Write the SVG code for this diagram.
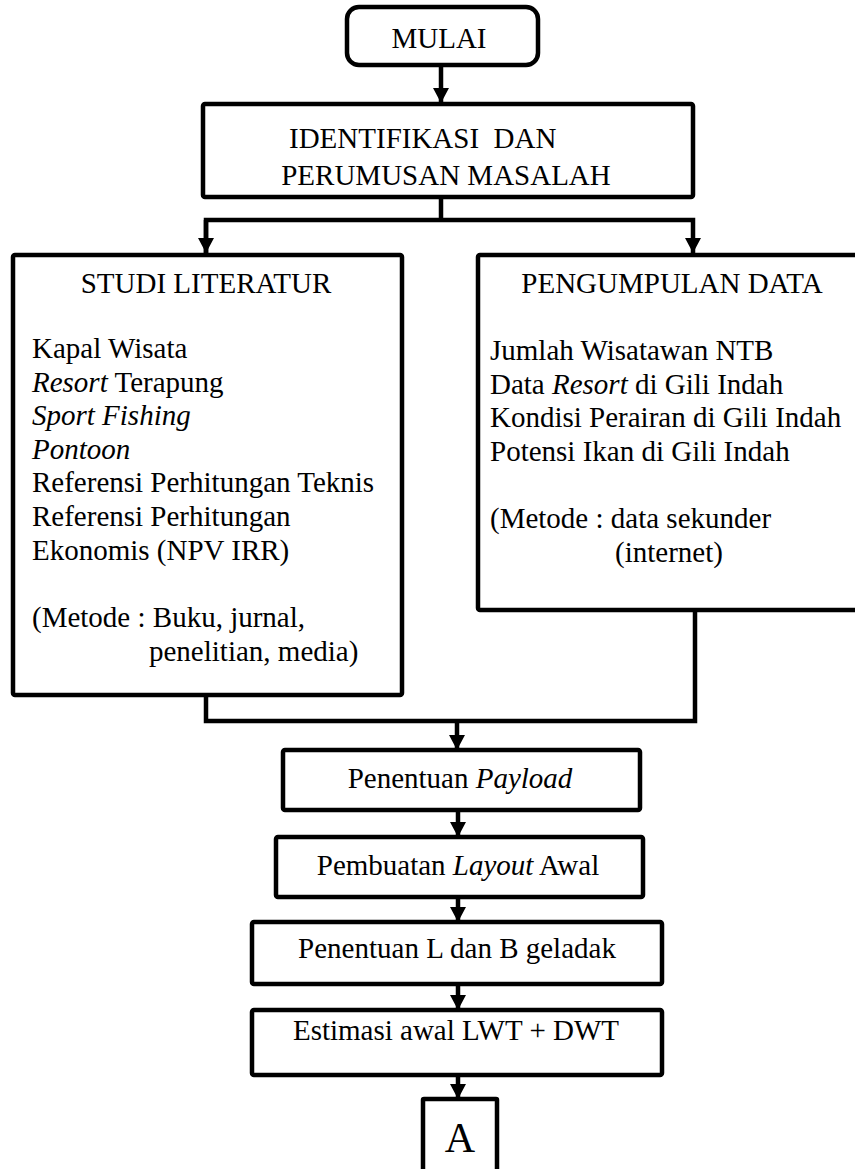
<svg xmlns="http://www.w3.org/2000/svg" width="855" height="1169" viewBox="0 0 855 1169">
<style>
  .box{fill:#fff;stroke:#000;stroke-width:4.5;stroke-linejoin:round}
  .c{text-anchor:middle}
  .i{font-style:italic}
  .ln{fill:none;stroke:#000;stroke-width:4.5;stroke-linejoin:miter}
</style>
<defs>
  <marker id="ah" markerUnits="userSpaceOnUse" markerWidth="18" markerHeight="16" refX="15" refY="8" orient="auto">
    <path d="M0,0 L15,8 L0,16 Z" fill="#000"/>
  </marker>
</defs>
<rect width="855" height="1169" fill="#fff"/>
<g id="connectors">
  <line class="ln" x1="441" y1="65" x2="441" y2="103" marker-end="url(#ah)"/>
  <polyline class="ln" points="441,197 441,220"/>
  <polyline class="ln" points="206,253 206,220 693,220 693,253" marker-end="url(#ah)"/>
  <line class="ln" x1="206" y1="220" x2="206" y2="253" marker-end="url(#ah)"/>
  <polyline class="ln" points="206,695 206,721 695,721 695,610"/>
  <line class="ln" x1="457" y1="721" x2="457" y2="750" marker-end="url(#ah)"/>
  <line class="ln" x1="458" y1="810" x2="458" y2="837" marker-end="url(#ah)"/>
  <line class="ln" x1="458" y1="897" x2="458" y2="922" marker-end="url(#ah)"/>
  <line class="ln" x1="458" y1="984" x2="458" y2="1010" marker-end="url(#ah)"/>
  <line class="ln" x1="458" y1="1075" x2="458" y2="1099" marker-end="url(#ah)"/>
</g>
<g id="mulai">
  <rect class="box" x="347" y="7" width="191" height="58" rx="12"/>
  <text font-family="Liberation Serif" font-size="29" class="c" x="439" y="48">MULAI</text>
</g>
<g id="identifikasi">
  <rect class="box" x="203" y="104" width="490" height="93" rx="2"/>
  <text font-family="Liberation Serif" font-size="29" x="289" y="148" xml:space="preserve">IDENTIFIKASI  DAN</text>
  <text font-family="Liberation Serif" font-size="29" class="c" x="446" y="185">PERUMUSAN MASALAH</text>
</g>
<g id="studi">
  <rect class="box" x="13" y="255" width="389" height="440" rx="2"/>
  <text font-family="Liberation Serif" font-size="29" class="c" x="206" y="293">STUDI LITERATUR</text>
  <text font-family="Liberation Serif" font-size="29" x="32" y="358">Kapal Wisata</text>
  <text font-family="Liberation Serif" font-size="29" x="32" y="391.6"><tspan class="i">Resort</tspan> Terapung</text>
  <text font-family="Liberation Serif" font-size="29" class="i" x="32" y="425.2">Sport Fishing</text>
  <text font-family="Liberation Serif" font-size="29" class="i" x="32" y="458.8">Pontoon</text>
  <text font-family="Liberation Serif" font-size="29" x="32" y="492.4">Referensi Perhitungan Teknis</text>
  <text font-family="Liberation Serif" font-size="29" x="32" y="526">Referensi Perhitungan</text>
  <text font-family="Liberation Serif" font-size="29" x="32" y="559.6">Ekonomis (NPV IRR)</text>
  <text font-family="Liberation Serif" font-size="29" x="32" y="627">(Metode : Buku, jurnal,</text>
  <text font-family="Liberation Serif" font-size="29" x="149" y="660.6">penelitian, media)</text>
</g>
<g id="pengumpulan">
  <rect class="box" x="478" y="255" width="390" height="355" rx="2"/>
  <text font-family="Liberation Serif" font-size="29" class="c" x="672" y="293">PENGUMPULAN DATA</text>
  <text font-family="Liberation Serif" font-size="29" x="490" y="360">Jumlah Wisatawan NTB</text>
  <text font-family="Liberation Serif" font-size="29" x="490" y="393.6">Data <tspan class="i">Resort</tspan> di Gili Indah</text>
  <text font-family="Liberation Serif" font-size="29" x="490" y="427.2">Kondisi Perairan di Gili Indah</text>
  <text font-family="Liberation Serif" font-size="29" x="490" y="460.8">Potensi Ikan di Gili Indah</text>
  <text font-family="Liberation Serif" font-size="29" x="490" y="528">(Metode : data sekunder</text>
  <text font-family="Liberation Serif" font-size="29" x="615" y="561.6">(internet)</text>
</g>
<g id="payload">
  <rect class="box" x="283" y="750" width="357" height="60" rx="2"/>
  <text font-family="Liberation Serif" font-size="29" class="c" x="460" y="788">Penentuan <tspan class="i">Payload</tspan></text>
</g>
<g id="layout">
  <rect class="box" x="276" y="837" width="367" height="60" rx="2"/>
  <text font-family="Liberation Serif" font-size="29" class="c" x="458" y="875">Pembuatan <tspan class="i">Layout</tspan> Awal</text>
</g>
<g id="lb">
  <rect class="box" x="252" y="922" width="410" height="62" rx="2"/>
  <text font-family="Liberation Serif" font-size="29" class="c" x="457" y="958">Penentuan L dan B geladak</text>
</g>
<g id="estimasi">
  <rect class="box" x="252" y="1010" width="410" height="65" rx="2"/>
  <text font-family="Liberation Serif" font-size="29" class="c" x="456" y="1040">Estimasi awal LWT + DWT</text>
</g>
<g id="a">
  <rect class="box" x="423" y="1099" width="74" height="80" rx="1"/>
  <text font-family="Liberation Serif" font-size="42" class="c" x="460" y="1152">A</text>
</g>
</svg>
